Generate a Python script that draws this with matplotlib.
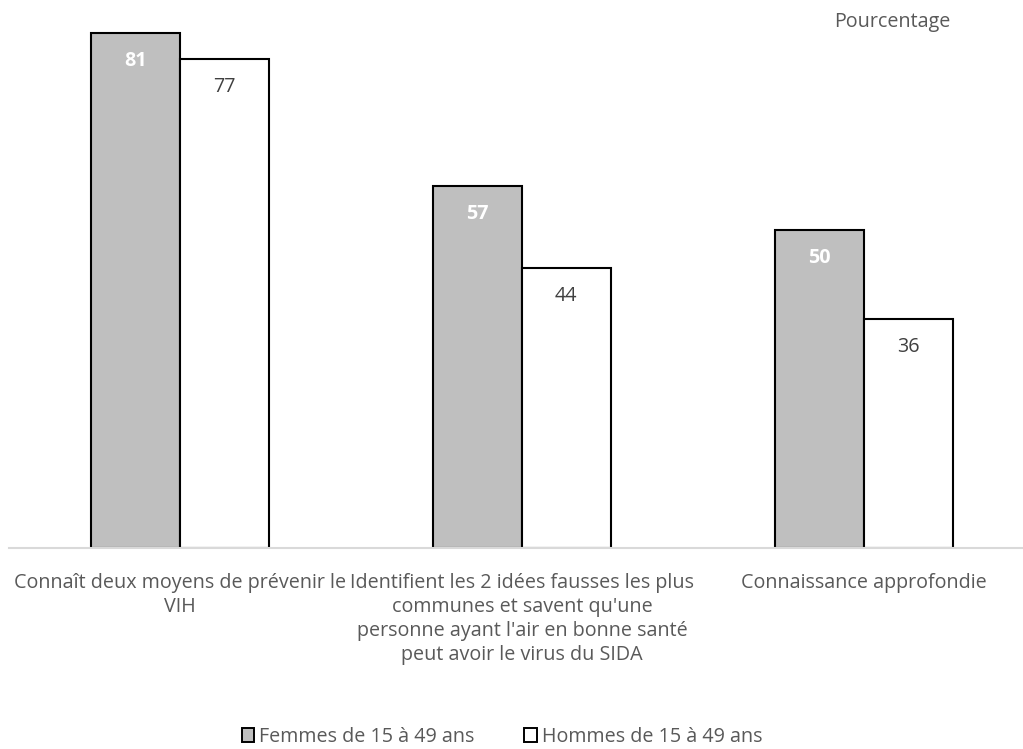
import matplotlib.pyplot as plt
import numpy as np
from matplotlib.patches import Patch

# ── data ──────────────────────────────────────────────────────────────── #
categories = [
    "Connaît deux moyens de prévenir le\nVIH",
    "Identifient les 2 idées fausses les plus\ncommunes et savent qu'une\n"
    "personne ayant l'air en bonne santé\npeut avoir le virus du SIDA",
    "Connaissance approfondie",
]
femmes = [81, 57, 50]
hommes = [77, 44, 36]
series_names = ["Femmes de 15 à 49 ans", "Hommes de 15 à 49 ans"]

GRAY = "#BFBFBF"
TXT = "#595959"
FS = 14.2
plt.rcParams["font.family"] = ["Open Sans", "DejaVu Sans"]

fig = plt.figure(figsize=(10.23, 7.49), dpi=100)
ax = fig.add_axes([9 / 1023, 1 - 548 / 749, 1 - 9 / 1023, (548 - 8) / 749])

x = np.arange(len(categories))
w = 0.259
b1 = ax.bar(x - w / 2, femmes, w, color=GRAY, edgecolor="black", lw=1.5)
b2 = ax.bar(x + w / 2, hommes, w, color="white", edgecolor="black", lw=1.5)

for rect, v in zip(b1, femmes):
    ax.annotate(str(v), (rect.get_x() + rect.get_width() / 2, v),
                xytext=(0, -20), textcoords="offset points",
                ha="center", va="center", color="white",
                fontsize=FS, fontweight="bold")
for rect, v in zip(b2, hommes):
    ax.annotate(str(v), (rect.get_x() + rect.get_width() / 2, v),
                xytext=(0, -20), textcoords="offset points",
                ha="center", va="center", color="#404040", fontsize=FS)

ax.set_xlim(-0.5, 2.465)
ax.set_ylim(0, 85)
for s in ["top", "right", "left"]:
    ax.spines[s].set_visible(False)
ax.spines["bottom"].set_color("#D9D9D9")
ax.spines["bottom"].set_linewidth(1.5)
ax.set_yticks([])
ax.set_xticks(x)
ax.set_xticklabels(categories, fontsize=FS, color=TXT, linespacing=1.27, va="top")
ax.tick_params(axis="x", length=0, pad=18)

fig.text(951 / 1023, 1 - 22 / 749, "Pourcentage", ha="right", va="center",
         fontsize=FS, color=TXT)

handles = [Patch(facecolor=GRAY, edgecolor="black", lw=1.4),
           Patch(facecolor="white", edgecolor="black", lw=1.4)]
fig.legend(handles, series_names, loc="center", bbox_to_anchor=(502 / 1023, 1 - 737 / 749),
           ncol=2, frameon=False, fontsize=FS, labelcolor=TXT, borderpad=0,
           handlelength=0.65, handleheight=0.65, handletextpad=0.25, columnspacing=2.5)

fig.savefig("out.png", dpi=100)
